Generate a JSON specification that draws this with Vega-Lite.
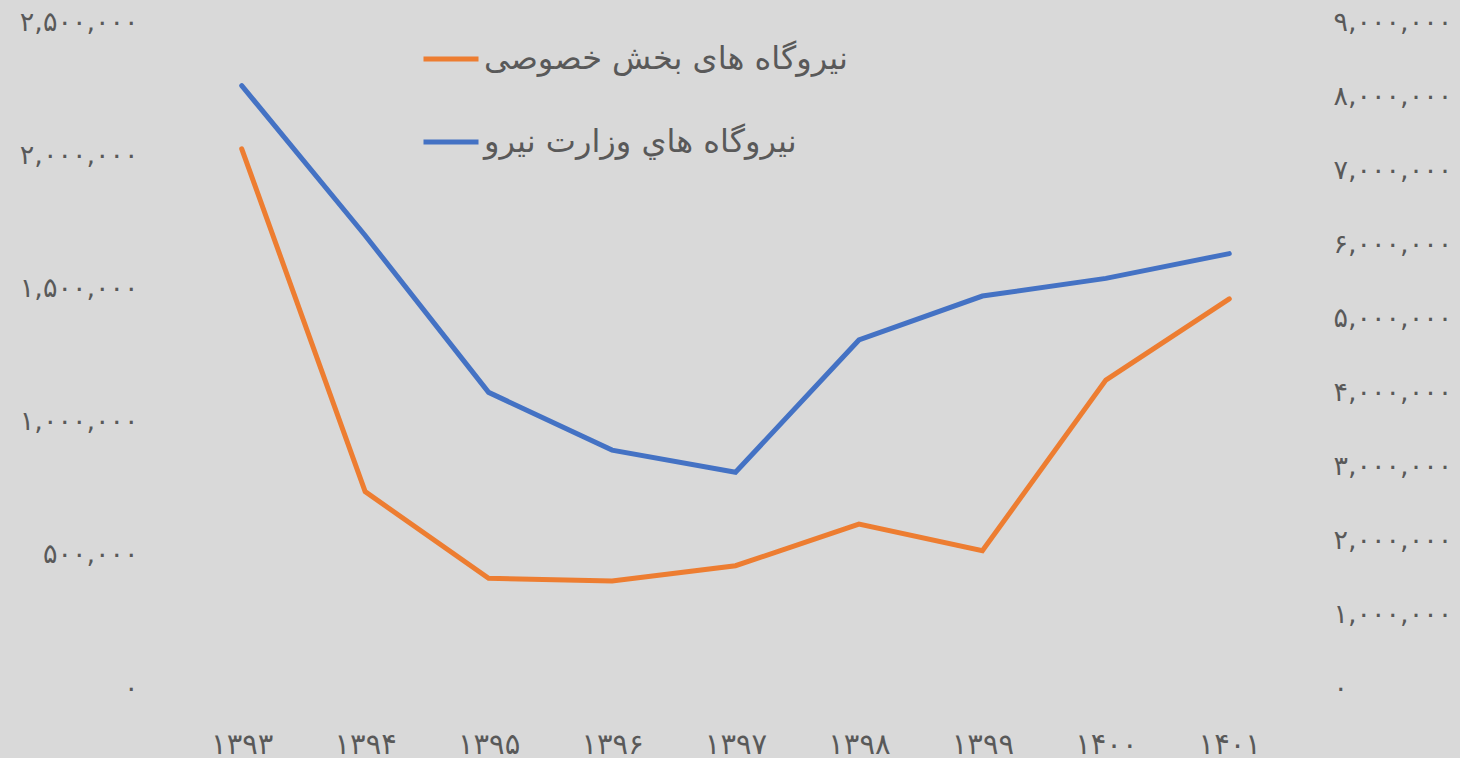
{
  "$schema": "https://vega.github.io/schema/vega-lite/v6.json",
  "width": 1111,
  "height": 666,
  "autosize": {"type": "none"},
  "padding": {"left": 180, "top": 22, "right": 169, "bottom": 70},
  "background": "#d9d9d9",
  "config": {
    "view": {"stroke": null},
    "font": "DejaVu Sans",
    "locale": {
      "number": {
        "decimal": ".",
        "thousands": ",",
        "grouping": [3],
        "currency": ["", ""],
        "numerals": ["۰", "۱", "۲", "۳", "۴", "۵", "۶", "۷", "۸", "۹"]
      }
    },
    "axis": {
      "labelFont": "DejaVu Sans",
      "labelColor": "#595959",
      "labelFontSize": 27,
      "grid": false,
      "domain": false,
      "ticks": false,
      "title": null
    }
  },
  "data": {
    "values": [
      {"year": "۱۳۹۳", "series": "نیروگاه های بخش خصوصی", "value": 2024000},
      {"year": "۱۳۹۴", "series": "نیروگاه های بخش خصوصی", "value": 737000},
      {"year": "۱۳۹۵", "series": "نیروگاه های بخش خصوصی", "value": 412000},
      {"year": "۱۳۹۶", "series": "نیروگاه های بخش خصوصی", "value": 402000},
      {"year": "۱۳۹۷", "series": "نیروگاه های بخش خصوصی", "value": 459000},
      {"year": "۱۳۹۸", "series": "نیروگاه های بخش خصوصی", "value": 615000},
      {"year": "۱۳۹۹", "series": "نیروگاه های بخش خصوصی", "value": 515000},
      {"year": "۱۴۰۰", "series": "نیروگاه های بخش خصوصی", "value": 1156000},
      {"year": "۱۴۰۱", "series": "نیروگاه های بخش خصوصی", "value": 1461000},
      {"year": "۱۳۹۳", "series": "نیروگاه هاي وزارت نیرو", "value": 8140000},
      {"year": "۱۳۹۴", "series": "نیروگاه هاي وزارت نیرو", "value": 6115000},
      {"year": "۱۳۹۵", "series": "نیروگاه هاي وزارت نیرو", "value": 3995000},
      {"year": "۱۳۹۶", "series": "نیروگاه هاي وزارت نیرو", "value": 3215000},
      {"year": "۱۳۹۷", "series": "نیروگاه هاي وزارت نیرو", "value": 2915000},
      {"year": "۱۳۹۸", "series": "نیروگاه هاي وزارت نیرو", "value": 4703000},
      {"year": "۱۳۹۹", "series": "نیروگاه هاي وزارت نیرو", "value": 5297000},
      {"year": "۱۴۰۰", "series": "نیروگاه هاي وزارت نیرو", "value": 5535000},
      {"year": "۱۴۰۱", "series": "نیروگاه هاي وزارت نیرو", "value": 5870000}
    ]
  },
  "encoding": {
    "x": {
      "field": "year",
      "type": "ordinal",
      "sort": null,
      "scale": {"type": "point", "padding": 0.5},
      "axis": {"labelAngle": 0, "labelPadding": 42, "labelFontSize": 29}
    },
    "color": {
      "field": "series",
      "type": "nominal",
      "scale": {
        "domain": ["نیروگاه های بخش خصوصی", "نیروگاه هاي وزارت نیرو"],
        "range": ["#ED7D31", "#4472C4"]
      },
      "legend": {
        "title": null,
        "orient": "none",
        "legendX": 241,
        "legendY": 7,
        "padding": 0,
        "symbolType": "stroke",
        "symbolSize": 3025,
        "symbolStrokeWidth": 5,
        "labelFont": "DejaVu Sans",
        "labelFontSize": 32,
        "labelColor": "#595959",
        "labelOffset": 3,
        "labelLimit": 700,
        "rowPadding": 37
      }
    }
  },
  "layer": [
    {
      "transform": [{"filter": "datum.series === 'نیروگاه های بخش خصوصی'"}],
      "mark": {"type": "line", "strokeWidth": 5, "strokeCap": "round"},
      "encoding": {
        "y": {
          "field": "value",
          "type": "quantitative",
          "scale": {"domain": [0, 2500000], "nice": false},
          "axis": {
            "orient": "left",
            "values": [0, 500000, 1000000, 1500000, 2000000, 2500000],
            "format": ",d",
            "labelPadding": 42
          }
        }
      }
    },
    {
      "transform": [{"filter": "datum.series === 'نیروگاه هاي وزارت نیرو'"}],
      "mark": {"type": "line", "strokeWidth": 5, "strokeCap": "round"},
      "encoding": {
        "y": {
          "field": "value",
          "type": "quantitative",
          "scale": {"domain": [0, 9000000], "nice": false},
          "axis": {
            "orient": "right",
            "values": [0, 1000000, 2000000, 3000000, 4000000, 5000000, 6000000, 7000000, 8000000, 9000000],
            "format": ",d",
            "labelPadding": 42
          }
        }
      }
    }
  ],
  "resolve": {"scale": {"y": "independent"}}
}
